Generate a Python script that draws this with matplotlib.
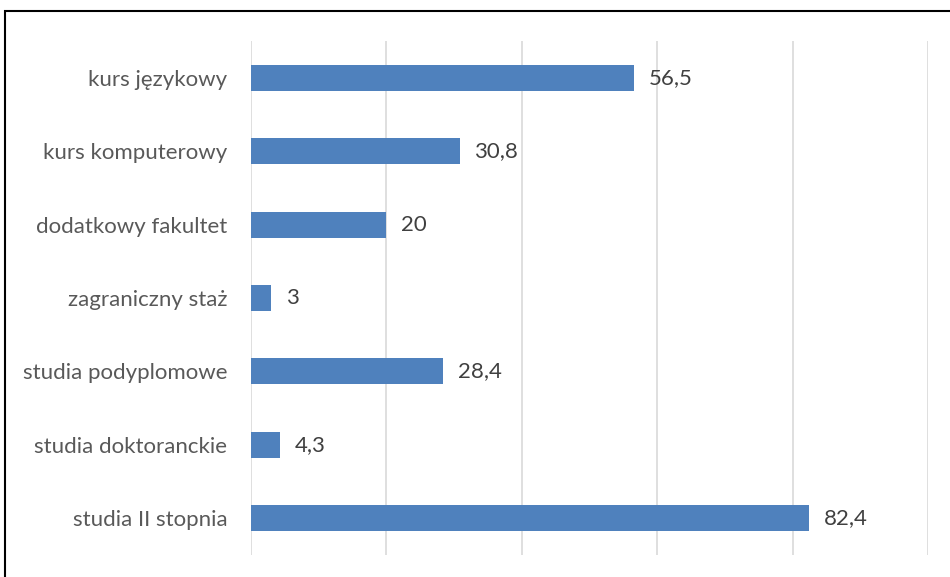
import matplotlib.pyplot as plt
from matplotlib.patches import Rectangle

# dane
categories = ['kurs językowy', 'kurs komputerowy', 'dodatkowy fakultet',
              'zagraniczny staż', 'studia podyplomowe', 'studia doktoranckie',
              'studia II stopnia']
values = [56.5, 30.8, 20, 3, 28.4, 4.3, 82.4]
value_labels = ['56,5', '30,8', '20', '3', '28,4', '4,3', '82,4']

plt.rcParams['font.family'] = ['Lato', 'DejaVu Sans']

fig = plt.figure(figsize=(9.5, 5.77), dpi=100)
ax = fig.add_axes([251 / 950, 1 - 555 / 577, (928 - 251) / 950, 514 / 577])

pos = list(range(len(categories)))
ax.barh(pos, values, height=0.355, color='#4f81bd', zorder=3)
for p, v, t in zip(pos, values, value_labels):
    ax.text(v + 2.2, p, t, va='center', ha='left', fontsize=16, color='#404040')

ax.set_yticks(pos)
ax.set_yticklabels(categories, fontsize=16, color='#595959')
ax.tick_params(axis='y', length=0, pad=17)
ax.set_ylim(len(categories) - 0.5, -0.5)
ax.set_xlim(0, 100)
ax.set_xticks([0, 20, 40, 60, 80, 100])
ax.tick_params(axis='x', length=0, labelbottom=False)
ax.grid(axis='x', color='#d9d9d9', lw=1.2, zorder=0)
for s in ax.spines.values():
    s.set_visible(False)

# ramka wokół wykresu
fig.patches.append(Rectangle((5 / 950, -0.2), 1.2, 1.2 - 11 / 577,
                             transform=fig.transFigure, fill=False,
                             edgecolor='black', lw=1.5))

plt.savefig('out.png', dpi=100)
